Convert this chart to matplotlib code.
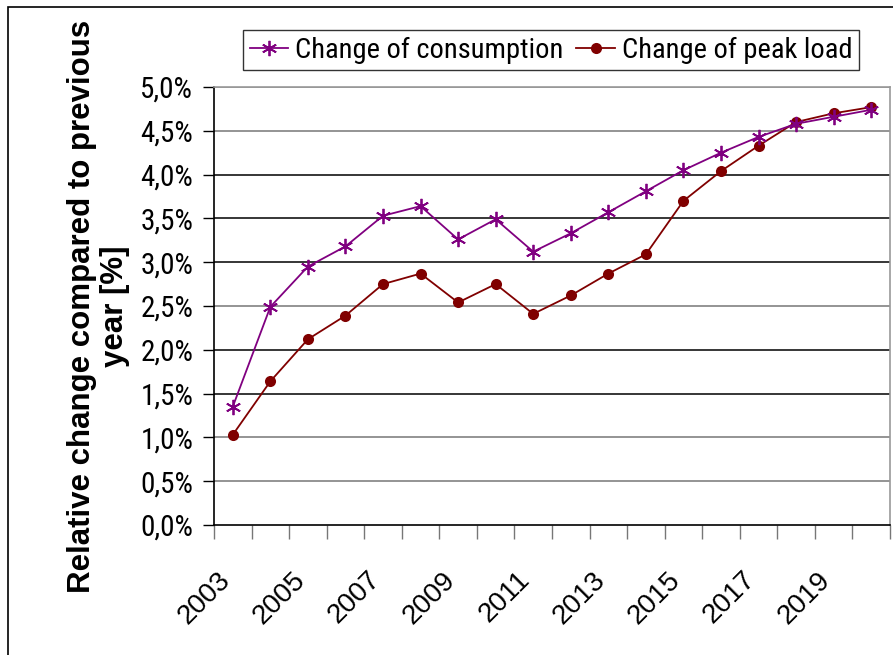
import matplotlib
matplotlib.use("Agg")
import matplotlib.pyplot as plt
from matplotlib.patches import Rectangle
from matplotlib.ticker import FixedLocator, FuncFormatter
from matplotlib.transforms import ScaledTranslation

years = list(range(2003, 2021))
consumption = [1.35, 2.49, 2.95, 3.18, 3.53, 3.64, 3.26, 3.49, 3.12, 3.33,
               3.57, 3.81, 4.05, 4.25, 4.43, 4.58, 4.66, 4.74]
peak_load = [1.03, 1.64, 2.12, 2.39, 2.75, 2.87, 2.54, 2.75, 2.41, 2.62,
             2.87, 3.09, 3.70, 4.04, 4.33, 4.60, 4.70, 4.77]
y_ticks = [0.0, 0.5, 1.0, 1.5, 2.0, 2.5, 3.0, 3.5, 4.0, 4.5, 5.0]

NARROW = ['Roboto Condensed', 'Liberation Sans', 'DejaVu Sans']
WIDE = ['Liberation Sans', 'DejaVu Sans']
plt.rcParams['font.family'] = NARROW

W, H = 893, 655
fig = plt.figure(figsize=(W / 100, H / 100), dpi=100)
fig.patch.set_facecolor('white')

# outer border
fig.patches.append(Rectangle((8 / W, -0.05), 1.1, 1 - 7 / H + 0.05,
                             transform=fig.transFigure, fill=False,
                             edgecolor='black', linewidth=1.2, zorder=0))

ax = fig.add_axes([214 / W, 1 - 525 / H, (890 - 214) / W, (525 - 87) / H])

x = list(range(len(years)))
ax.plot(x, consumption, color='#800080', linewidth=1.3,
        marker=(6, 2, 0), markersize=11, markeredgewidth=1.3,
        label='Change of consumption', zorder=4)
ax.plot(x, peak_load, color='#800000', linewidth=1.3,
        marker='o', markersize=8, markeredgewidth=0,
        label='Change of peak load', zorder=3)

ax.set_xlim(-0.5, len(years) - 0.5)
ax.set_ylim(0, 5.0)

ax.set_yticks(y_ticks)
ax.yaxis.set_major_formatter(FuncFormatter(lambda v, p: f"{v:.1f}%".replace('.', ',')))
ax.tick_params(axis='y', length=8, width=1, color='black', labelsize=21, pad=7)

for v in y_ticks[1:]:
    ax.axhline(v, color='#777777' if v in (1.0, 0.5, 4.5, 5.0, 2.5) else 'black',
               linewidth=1.1, zorder=1)

# x ticks: marks at category boundaries, labels at odd years
ax.xaxis.set_minor_locator(FixedLocator([i - 0.5 for i in range(len(years) + 1)]))
ax.set_xticks([i for i, yv in enumerate(years) if yv % 2 == 1])
ax.set_xticklabels([str(yv) for yv in years if yv % 2 == 1])
ax.tick_params(axis='x', which='major', length=0, labelsize=20, pad=30)
ax.tick_params(axis='x', which='minor', length=10, width=1, color='#777777')
offset = ScaledTranslation(-16 / 100, 0, fig.dpi_scale_trans)
for lbl in ax.get_xticklabels():
    lbl.set_rotation(45)
    lbl.set_ha('right')
    lbl.set_va('top')
    lbl.set_rotation_mode('anchor')
    lbl.set_family(WIDE)
    lbl.set_transform(lbl.get_transform() + offset)

for s in ['left', 'bottom']:
    ax.spines[s].set_color('black')
    ax.spines[s].set_linewidth(1.2)
for s in ['top', 'right']:
    ax.spines[s].set_color('#999999')
    ax.spines[s].set_linewidth(1.2)

ax.set_ylabel('Relative change compared to previous\nyear [%]', fontsize=22.5,
              fontweight='bold', linespacing=1.15, family=WIDE)
ax.yaxis.set_label_coords(-84 / (890 - 214), 0.5)

leg = fig.legend(loc='center', bbox_to_anchor=(551 / W, 1 - 50 / H), ncol=2,
                 fontsize=20.5, frameon=True, fancybox=False, handlelength=1.35,
                 columnspacing=0.45, handletextpad=0.25, borderpad=0.22,
                 edgecolor='black')
leg.get_frame().set_linewidth(1.0)

fig.savefig('out.png', dpi=100)
